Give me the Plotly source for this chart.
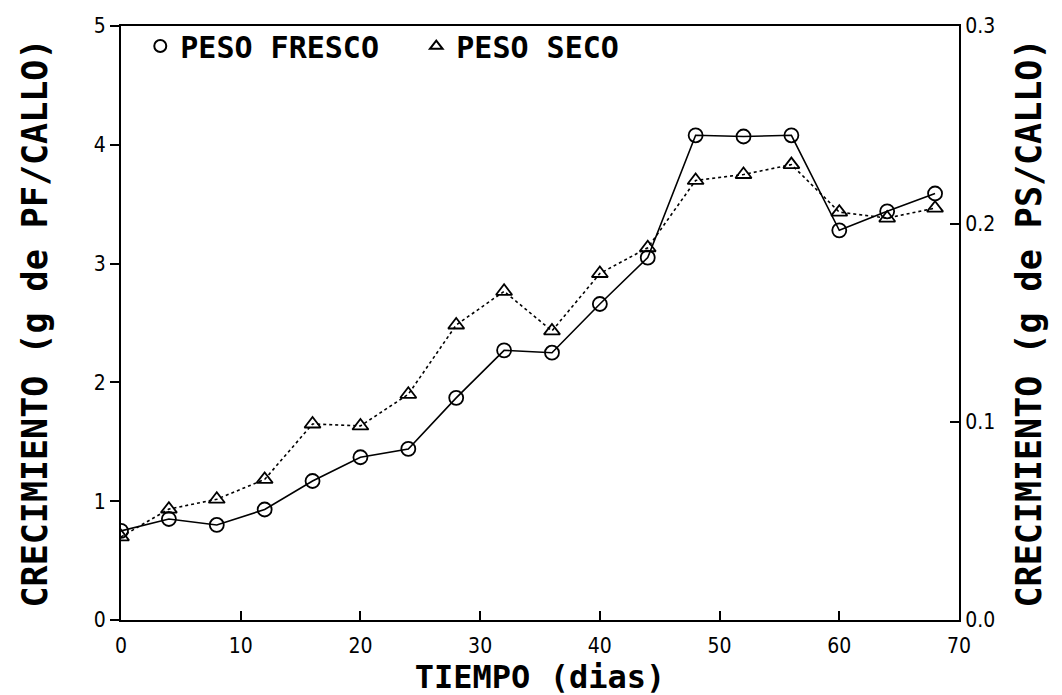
import plotly.graph_objects as go

dias = [0, 4, 8, 12, 16, 20, 24, 28, 32, 36, 40, 44, 48, 52, 56, 60, 64, 68]
peso_fresco = [0.75, 0.85, 0.80, 0.93, 1.17, 1.37, 1.44, 1.87, 2.27, 2.25, 2.66, 3.05,
               4.08, 4.07, 4.08, 3.28, 3.44, 3.59]
peso_seco = [0.042, 0.056, 0.061, 0.071, 0.099, 0.098, 0.114, 0.149, 0.166, 0.146,
             0.175, 0.188, 0.222, 0.225, 0.230, 0.206, 0.203, 0.208]
x_ticks = [0, 10, 20, 30, 40, 50, 60, 70]
y1_ticks = [0, 1, 2, 3, 4, 5]
y2_ticks = [0.0, 0.1, 0.2, 0.3]

TICK_FONT = dict(family="Liberation Sans Narrow, DejaVu Sans Condensed, sans-serif", size=21, color="black")
XTITLE_FONT = dict(family="DejaVu Sans Mono", size=32, color="black", weight="bold")
YTITLE_FONT = dict(family="DejaVu Sans Mono", size=35, color="black", weight="bold")

fig = go.Figure()
fig.add_trace(go.Scatter(
    x=dias, y=peso_fresco, mode="lines+markers", showlegend=False,
    line=dict(color="black", width=1.6),
    marker=dict(symbol="circle-open", size=14, color="black", line=dict(width=1.8)),
))
fig.add_trace(go.Scatter(
    x=dias, y=peso_seco, mode="lines+markers", showlegend=False, yaxis="y2",
    line=dict(color="black", width=1.6, dash="dot"),
    marker=dict(symbol="triangle-up-open", size=14, color="black", line=dict(width=1.8)),
))
# legend-only entries
fig.add_trace(go.Scatter(
    x=[None], y=[None], mode="markers", name="PESO FRESCO",
    marker=dict(symbol="circle-open", size=12, color="black", line=dict(width=2)),
))
fig.add_trace(go.Scatter(
    x=[None], y=[None], mode="markers", name="PESO SECO",
    marker=dict(symbol="triangle-up-open", size=11, color="black", line=dict(width=2)),
))

fig.update_layout(
    width=1062, height=695,
    margin=dict(l=113, r=111, t=15, b=83),
    paper_bgcolor="white", plot_bgcolor="white",
    showlegend=True,
    legend=dict(orientation="h", x=0.023, y=1.01, xanchor="left", yanchor="top",
                font=dict(family="DejaVu Sans Mono", size=30, color="black", weight="bold"),
                bgcolor="rgba(0,0,0,0)", itemwidth=30, entrywidth=231),
    xaxis=dict(
        range=[0, 70], tickvals=x_ticks, ticktext=[str(v) for v in x_ticks],
        ticks="inside", ticklen=9, tickwidth=1.5, tickcolor="black",
        showline=True, linecolor="black", linewidth=2, mirror=True,
        showgrid=False, zeroline=False, tickfont=TICK_FONT, automargin=False,
        ticklabelstandoff=6,
        title=dict(text="TIEMPO (dias)", font=XTITLE_FONT, standoff=0),
    ),
    yaxis=dict(
        range=[0, 5], tickvals=y1_ticks, ticktext=[str(v) for v in y1_ticks],
        ticks="outside", ticklen=9, tickwidth=1.5, tickcolor="black",
        showline=True, linecolor="black", linewidth=2,
        showgrid=False, zeroline=False, tickfont=TICK_FONT, automargin=False,
        title=dict(text="CRECIMIENTO (g de PF/CALLO)", font=YTITLE_FONT, standoff=36),
    ),
    yaxis2=dict(
        range=[0, 0.3], tickvals=y2_ticks, ticktext=[f"{v:.1f}" for v in y2_ticks],
        overlaying="y", side="right",
        ticks="inside", ticklen=9, tickwidth=1.5, tickcolor="black",
        showline=True, linecolor="black", linewidth=2,
        showgrid=False, zeroline=False, tickfont=TICK_FONT, automargin=False,
        title=dict(text="CRECIMIENTO (g de PS/CALLO)", font=YTITLE_FONT, standoff=22),
    ),
)

fig.write_html("out.html")
